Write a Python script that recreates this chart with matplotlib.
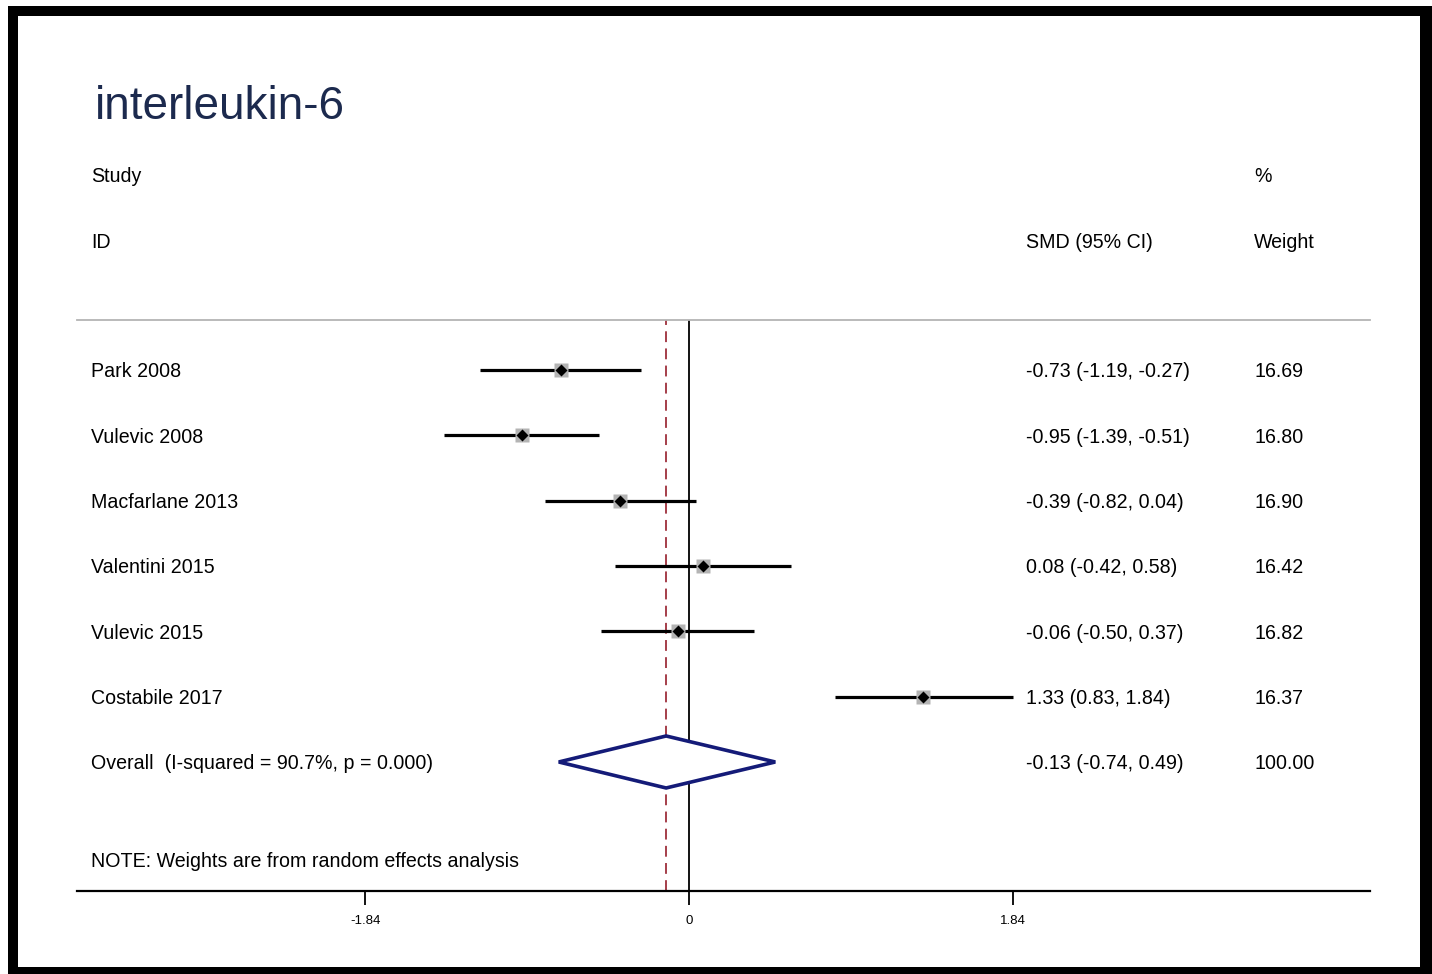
import matplotlib
matplotlib.use("Agg")
import matplotlib.pyplot as plt
from matplotlib.patches import Rectangle, Polygon

plt.rcParams['font.family'] = ['Liberation Sans', 'DejaVu Sans']

# Study-level results
studies = ["Park 2008", "Vulevic 2008", "Macfarlane 2013", "Valentini 2015",
           "Vulevic 2015", "Costabile 2017"]
smd = [-0.73, -0.95, -0.39, 0.08, -0.06, 1.33]
ci_low = [-1.19, -1.39, -0.82, -0.42, -0.50, 0.83]
ci_high = [-0.27, -0.51, 0.04, 0.58, 0.37, 1.84]
weights = [16.69, 16.80, 16.90, 16.42, 16.82, 16.37]

# Pooled (random effects) estimate
overall_label = "Overall  (I-squared = 90.7%, p = 0.000)"
overall_smd = -0.13
overall_low = -0.74
overall_high = 0.49
overall_weight = 100.00

tick_values = [-1.84, 0, 1.84]
tick_labels = ["-1.84", "0", "1.84"]

W, H = 1432, 974
fig = plt.figure(figsize=(W / 100, H / 100), dpi=100)
fig.patch.set_facecolor("white")

# Black frame around the panel
fig.add_artist(Rectangle((8 / W, 0), 1 - 8 / W, 1 - 6 / H,
                         transform=fig.transFigure, facecolor="black",
                         edgecolor="none", zorder=-10))
fig.add_artist(Rectangle((18 / W, 7 / H), (1420 - 18) / W, (967 - 16) / H,
                         transform=fig.transFigure, facecolor="white",
                         edgecolor="none", zorder=-9))

ax = fig.add_axes([77 / W, (H - 891) / H, (1370 - 77) / W, (891 - 320) / H])
ax.set_facecolor("none")
scale = 176.0
ax.set_xlim((77 - 689) / scale, (1370 - 689) / scale)
row_px = 65.33
y_top = (320 - 304.67) / row_px
y_bot = (891 - 304.67) / row_px
ax.set_ylim(y_bot, y_top)

for s in ("left", "right"):
    ax.spines[s].set_visible(False)
ax.spines["top"].set_color("#b4b4b4")
ax.spines["top"].set_linewidth(1.3)
ax.spines["bottom"].set_color("black")
ax.spines["bottom"].set_linewidth(1.6)
ax.set_yticks([])
ax.set_xticks(tick_values)
ax.set_xticklabels(tick_labels, family=["Liberation Sans Narrow", "Liberation Sans"],
                   fontsize=9.5)
ax.tick_params(axis="x", direction="out", length=10, width=1.3, pad=7,
               colors="black")

# Reference lines
ax.axvline(0, color="black", lw=1.3, zorder=1)
ax.axvline(overall_smd, color="#9e2f3b", lw=1.3, ls=(0, (6, 3.5)), zorder=1)

text_kw = dict(fontsize=14.1, color="black", va="baseline")
base_off = 7.2 / row_px
x_study = (91 - 689) / scale
x_smd = (1026 - 689) / scale
x_wt = (1254 - 689) / scale

for i, (name, m, lo, hi, w) in enumerate(zip(studies, smd, ci_low, ci_high, weights)):
    y = i + 1
    ax.plot([lo, hi], [y, y], color="black", lw=2.3, solid_capstyle="butt", zorder=2)
    ax.plot([m], [y], marker="s", ms=9.8 * (w / 16.7) ** 0.5, color="#b4b4b4",
            mec="none", zorder=3)
    ax.plot([m], [y], marker="D", ms=6.5, color="black", mec="none", zorder=4)
    ax.text(x_study, y + base_off, name, clip_on=False, **text_kw)
    ax.text(x_smd, y + base_off, f"{m:.2f} ({lo:.2f}, {hi:.2f})", clip_on=False, **text_kw)
    ax.text(x_wt, y + base_off, f"{w:.2f}", clip_on=False, **text_kw)

# Pooled estimate diamond
yo = len(studies) + 1
half_h = 26 / row_px
diamond = Polygon([[overall_low, yo], [overall_smd, yo - half_h],
                   [overall_high, yo], [overall_smd, yo + half_h]],
                  closed=True, facecolor="white", edgecolor="#141b78",
                  lw=2.6, zorder=3, joinstyle="miter")
ax.add_patch(diamond)
ax.text(x_study, yo + base_off, overall_label, clip_on=False, **text_kw)
ax.text(x_smd, yo + base_off,
        f"{overall_smd:.2f} ({overall_low:.2f}, {overall_high:.2f})",
        clip_on=False, **text_kw)
ax.text(x_wt, yo + base_off, f"{overall_weight:.2f}", clip_on=False, **text_kw)

# Column headers and note
ax.text(x_study, (182 - 304.67) / row_px, "Study", clip_on=False, **text_kw)
ax.text(x_wt, (182 - 304.67) / row_px, "%", clip_on=False, **text_kw)
ax.text(x_study, (248 - 304.67) / row_px, "ID", clip_on=False, **text_kw)
ax.text(x_smd, (248 - 304.67) / row_px, "SMD (95% CI)", clip_on=False, **text_kw)
ax.text(x_wt, (248 - 304.67) / row_px, "Weight", clip_on=False, **text_kw)
ax.text(x_study, (867 - 304.67) / row_px,
        "NOTE: Weights are from random effects analysis", clip_on=False, **text_kw)

# Title
ax.text((95 - 689) / scale, (119 - 304.67) / row_px, "interleukin-6",
        fontsize=33, color="#1c2a4e", va="baseline", clip_on=False)

fig.savefig("out.png", dpi=100, facecolor=fig.get_facecolor())
